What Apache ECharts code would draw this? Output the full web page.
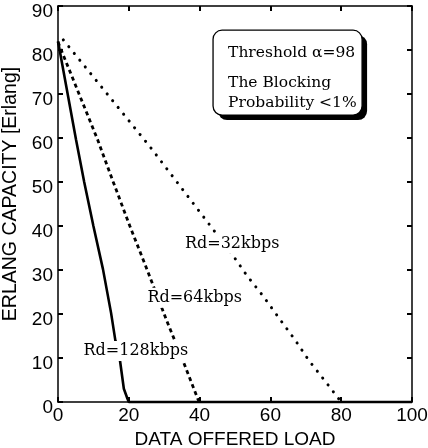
<!DOCTYPE html>
<html>
<head>
<meta charset="utf-8">
<script src="https://cdn.jsdelivr.net/npm/echarts@6/dist/echarts.min.js"></script>
<style>html,body{margin:0;padding:0;background:#fff}#c{width:428px;height:448px}</style>
</head>
<body>
<div id="c"></div>
<script>
// ---- data ----
var xTicks = [0, 20, 40, 60, 80, 100];
var yTicks = [0, 10, 20, 30, 40, 50, 60, 70, 80, 90];

var load128 = [0, 5.1, 7.4, 10, 12.7, 15, 16.2, 17.5, 18.6, 19.6, 20, 100];
var cap128  = [82, 59.6, 50, 40, 30.2, 20.2, 14, 9.5, 3, 0.8, 0, 0];

var load64 = [0, 11.2, 15.6, 20.3, 25, 30.7, 35, 39.6, 40];
var cap64  = [81.8, 59.6, 50, 40, 30.4, 18.5, 10, 0.5, 0];

var load32 = [1.5, 26, 44.5, 49, 53.3, 58, 62.5, 66.8, 70.9, 75.6, 80];
var cap32  = [82.3, 58, 38.5, 33.8, 28.8, 24, 19, 14.3, 9.4, 4.6, 0];

var labelTexts = ['Rd=32kbps', 'Rd=64kbps', 'Rd=128kbps'];
var labelX = [49.2, 38.6, 22];
var labelY = [36, 23.7, 11.6];

var boxLines = ['Threshold \u03b1=98', 'The Blocking', 'Probability <1%'];
var boxCorner1 = [43.8, 84.5];
var boxCorner2 = [85.9, 65.2];

function pairs(xs, ys) { return xs.map(function (x, i) { return [x, ys[i]]; }); }

var chart = echarts.init(document.getElementById('c'), null, {renderer: 'canvas'});
var sans = 'Liberation Sans';
var serif = 'DejaVu Serif';

function xAx(pos, show) {
  return {
    type: 'value', position: pos, min: 0, max: 100, interval: 20,
    name: show ? 'DATA OFFERED LOAD' : '', nameLocation: 'middle', nameGap: 27,
    nameTextStyle: {fontFamily: sans, fontSize: 19, color: '#000'},
    axisLine: {show: true, onZero: false, lineStyle: {color: '#000', width: 1.5}},
    axisTick: {show: true, inside: true, length: 5, lineStyle: {color: '#000', width: 2}},
    axisLabel: {show: show, fontFamily: sans, fontSize: 19, color: '#000', margin: 4},
    splitLine: {show: false}
  };
}
function yAx(pos, show) {
  return {
    type: 'value', position: pos, min: 0, max: 90, interval: 10,
    name: show ? 'ERLANG CAPACITY [Erlang]' : '', nameLocation: 'middle', nameGap: 33,
    nameTextStyle: {fontFamily: sans, fontSize: 19.5, color: '#000', padding: [0, 0, 0, 20]},
    axisLine: {show: true, onZero: false, lineStyle: {color: '#000', width: 1.5}},
    axisTick: {show: true, inside: true, length: 5, lineStyle: {color: '#000', width: 2}},
    axisLabel: {show: show, fontFamily: sans, fontSize: 19, color: '#000', margin: 5,
                verticalAlign: 'top', lineHeight: 11},
    splitLine: {show: false}
  };
}

chart.setOption({
  animation: false,
  grid: {left: 58, right: 16, top: 6, bottom: 46, containLabel: false, outerBoundsMode: 'none'},
  xAxis: [xAx('bottom', true), xAx('top', false)],
  yAxis: [yAx('left', true), yAx('right', false)],
  series: [
    {type: 'line', data: pairs(load32, cap32), symbol: 'none', clip: false,
     lineStyle: {color: '#000', width: 3, type: [0.1, 8.6], cap: 'round'}},
    {type: 'line', data: pairs(load64, cap64), symbol: 'none', clip: false,
     lineStyle: {color: '#000', width: 2.8, type: [4, 3.5]}},
    {type: 'line', data: pairs(load128, cap128), symbol: 'none', clip: false,
     lineStyle: {color: '#000', width: 2.6}}
  ]
});

var graphics = [];
labelTexts.forEach(function (t, i) {
  var p = chart.convertToPixel({gridIndex: 0}, [labelX[i], labelY[i]]);
  graphics.push({type: 'text', x: p[0], y: p[1], z: 100,
    style: {text: t, fontFamily: serif, fontSize: 16, fill: '#000', align: 'center', verticalAlign: 'middle',
            backgroundColor: '#fff', padding: [2, 1, 2, 1]}});
});
var b1 = chart.convertToPixel({gridIndex: 0}, boxCorner1);
var b2 = chart.convertToPixel({gridIndex: 0}, boxCorner2);
var bw = b2[0] - b1[0], bh = b2[1] - b1[1];
graphics.push({type: 'rect', x: b1[0] + 5, y: b1[1] + 5, shape: {width: bw, height: bh, r: 9}, style: {fill: '#000'}});
graphics.push({type: 'rect', x: b1[0], y: b1[1], shape: {width: bw, height: bh, r: 9}, style: {fill: '#fff', stroke: '#000', lineWidth: 1.3}});
var lineYs = [23, 53, 73];
boxLines.forEach(function (t, i) {
  graphics.push({type: 'text', x: b1[0] + 15, y: b1[1] + lineYs[i],
    style: {text: t, fontFamily: serif, fontSize: 15.5, fill: '#000', align: 'left', verticalAlign: 'middle'}});
});
chart.setOption({graphic: graphics});
</script>
</body>
</html>
